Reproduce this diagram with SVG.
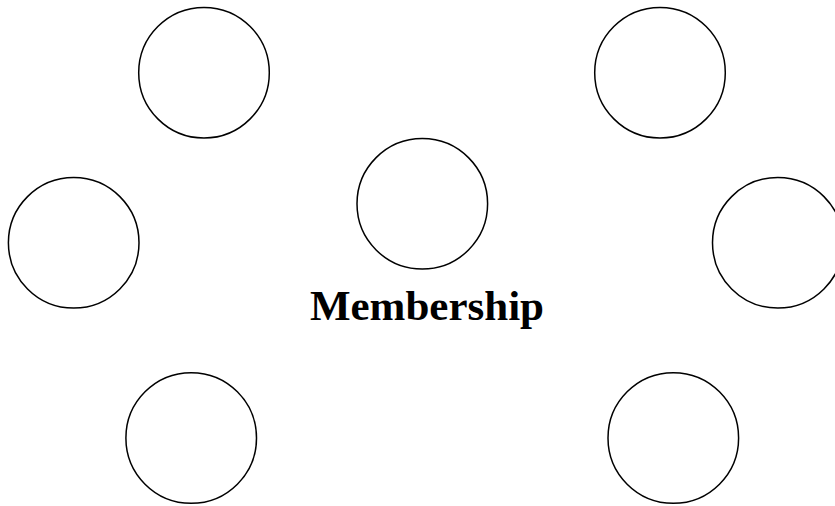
<svg xmlns="http://www.w3.org/2000/svg" width="835" height="506" viewBox="0 0 835 506">
<style>
.n{fill:#fff;stroke:#000;stroke-width:1.5}
.t{font-family:"Liberation Serif","Times New Roman",serif;font-weight:bold;font-size:43px;fill:#000}
</style>
<rect width="835" height="506" fill="#fff"/>
<g id="connectors"></g>
<g id="n1"><circle class="n" cx="204" cy="72.7" r="65.3"/></g>
<g id="n2"><circle class="n" cx="660" cy="72.7" r="65.3"/></g>
<g id="n3"><circle class="n" cx="422.3" cy="203.8" r="65.3"/></g>
<g id="n4"><circle class="n" cx="73.7" cy="242.8" r="65.3"/></g>
<g id="n5"><circle class="n" cx="777.8" cy="242.8" r="65.3"/></g>
<g id="n6"><circle class="n" cx="191.2" cy="438" r="65.3"/></g>
<g id="n7"><circle class="n" cx="673.3" cy="438" r="65.3"/></g>
<g id="label"><text class="t" x="427" y="320" text-anchor="middle">Membership</text></g>
</svg>
